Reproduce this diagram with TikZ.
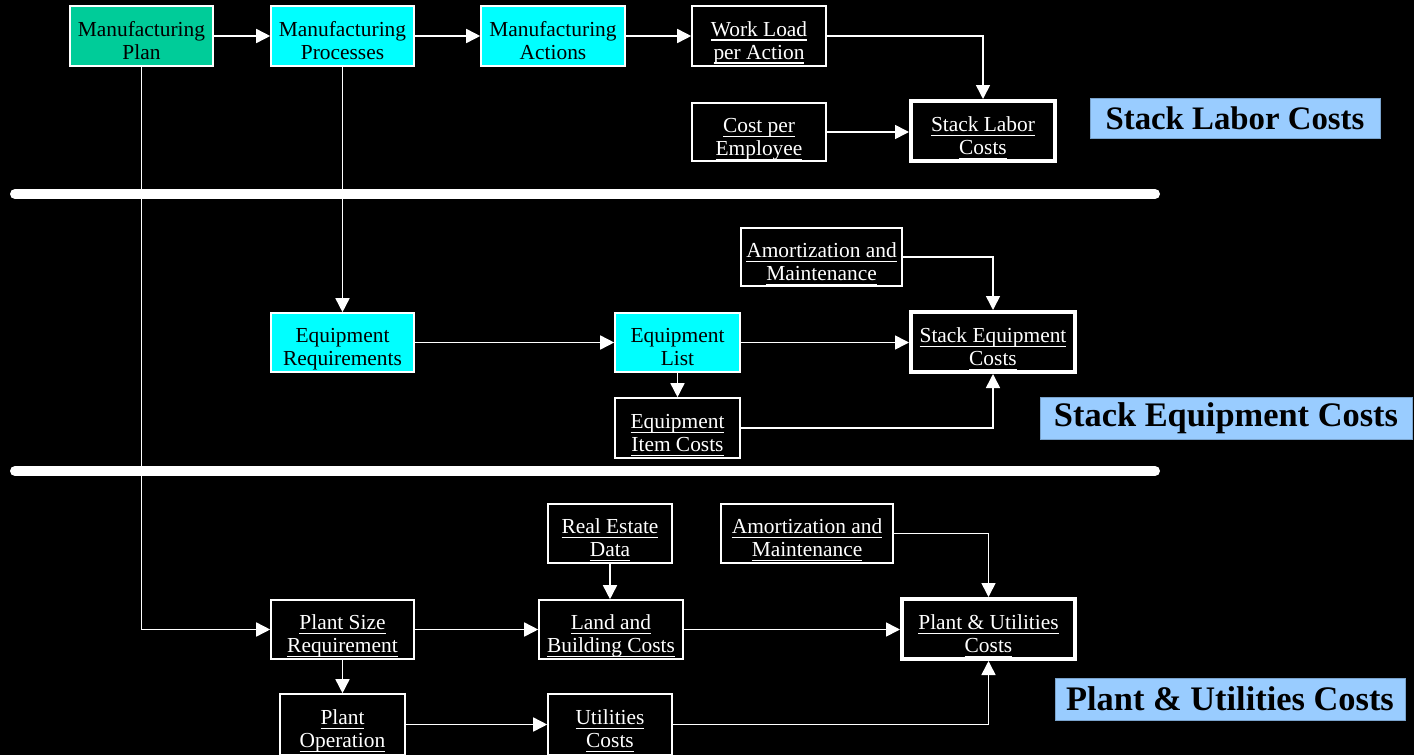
\documentclass[tikz,border=0pt]{standalone}
\usepackage{fontspec}
\setmainfont{Liberation Serif}
\usetikzlibrary{arrows.meta}
\definecolor{navytop}{RGB}{3,3,36}
\definecolor{navybot}{RGB}{6,6,26}
\definecolor{tealgreen}{RGB}{0,204,153}
\definecolor{aqua}{RGB}{0,255,255}
\definecolor{labelblue}{RGB}{153,204,255}
\pgfdeclareverticalshading{bgshade}{100bp}{color(0bp)=(navybot); color(4bp)=(black); color(88bp)=(black); color(100bp)=(navytop)}
\newcommand\ulx[1]{\setbox0\hbox{#1}\leavevmode\rlap{\rule[-2.4pt]{\wd0}{0.65pt}}\box0}
\newcommand\two[2]{\rule{0pt}{14.5pt}#1\\#2\rule[-3pt]{0pt}{3pt}}
\tikzset{
  boxbase/.style={inner sep=0pt, align=center, font=\fontsize{10.7}{11.5}\selectfont},
  cyanbox/.style={boxbase, fill=aqua, draw=white, line width=0.8pt, text=black},
  greenbox/.style={boxbase, fill=tealgreen, draw=white, line width=0.8pt, text=black},
  plainbox/.style={boxbase, fill=black, draw=white, line width=0.8pt, text=white},
  thickbox/.style={boxbase, fill=black, draw=white, line width=2pt, text=white},
  lbl/.style={inner sep=0pt, fill=labelblue, draw=labelblue!80!black, line width=0.4pt, text=black, font=\bfseries},
  arr/.style={draw=white, line width=0.8pt, -{Triangle[length=7pt,width=7pt]}},
  sep/.style={draw=white, line width=5pt, line cap=round}
}
\begin{document}
\begin{tikzpicture}[x=0.5pt,y=-0.5pt]
\shade[shading=bgshade] (0,0) rectangle (1414,755);
\useasboundingbox (0,0) rectangle (1414,755);
% separators
\coordinate (s1a) at (15,194); \coordinate (s1b) at (1155,194);
\coordinate (s2a) at (15,471); \coordinate (s2b) at (1155,471);
\draw[sep] (s1a) -- (s1b);
\draw[sep] (s2a) -- (s2b);
% top row
\node[greenbox, minimum width=71.5pt, minimum height=30pt] (mplan) at (141.5,36) {\two{Manufacturing}{Plan}};
\node[cyanbox, minimum width=71.5pt, minimum height=30pt] (mproc) at (342.5,36) {\two{Manufacturing}{Processes}};
\node[cyanbox, minimum width=72pt, minimum height=30pt] (mact) at (553,36) {\two{Manufacturing}{Actions}};
\node[plainbox, minimum width=67pt, minimum height=30pt] (wload) at (759,36) {\two{\ulx{Work Load}}{\ulx{per Action}}};
\node[plainbox, minimum width=67pt, minimum height=29pt] (cpe) at (759,132) {\two{\ulx{Cost per}}{\ulx{Employee}}};
\node[thickbox, minimum width=72pt, minimum height=30pt] (slc) at (983,131) {\two{\ulx{Stack Labor}}{\ulx{Costs}}};
\node[lbl, minimum width=145pt, minimum height=20pt, font=\fontsize{16.4}{18}\selectfont\bfseries] (lab1) at (1235,118) {Stack Labor Costs};
% equipment section
\node[plainbox, minimum width=80.5pt, minimum height=29pt] (amort1) at (821.5,257) {\two{\ulx{Amortization and}}{\ulx{Maintenance}}};
\node[cyanbox, minimum width=71.5pt, minimum height=29.5pt] (ereq) at (342.5,342.5) {\two{Equipment}{Requirements}};
\node[cyanbox, minimum width=62.5pt, minimum height=29.5pt] (elist) at (677.5,342.5) {\two{Equipment}{List}};
\node[thickbox, minimum width=82pt, minimum height=30pt] (sec) at (993,342) {\two{\ulx{Stack Equipment}}{\ulx{Costs}}};
\node[plainbox, minimum width=62.5pt, minimum height=30pt] (eitem) at (677.5,428) {\two{\ulx{Equipment}}{\ulx{Item Costs}}};
\node[lbl, minimum width=186pt, minimum height=21pt, font=\fontsize{17.2}{19}\selectfont\bfseries] (lab2) at (1226,418) {Stack Equipment Costs};
% plant section
\node[plainbox, minimum width=62pt, minimum height=29.5pt] (redata) at (610,533.5) {\two{\ulx{Real Estate}}{\ulx{Data}}};
\node[plainbox, minimum width=86pt, minimum height=29.5pt] (amort2) at (807,533.5) {\two{\ulx{Amortization and}}{\ulx{Maintenance}}};
\node[plainbox, minimum width=71.5pt, minimum height=29.5pt] (psize) at (342.5,629.5) {\two{\ulx{Plant Size}}{\ulx{Requirement}}};
\node[plainbox, minimum width=72pt, minimum height=29.5pt] (land) at (611,629.5) {\two{\ulx{Land and}}{\ulx{Building Costs}}};
\node[thickbox, minimum width=86.5pt, minimum height=30pt] (puc) at (988.5,629) {\two{\ulx{Plant \& Utilities}}{\ulx{Costs}}};
\node[plainbox, minimum width=62.5pt, minimum height=30.5pt] (pop) at (342.5,724.5) {\two{\ulx{Plant}}{\ulx{Operation}}};
\node[plainbox, minimum width=62pt, minimum height=30.5pt] (util) at (610,724.5) {\two{\ulx{Utilities}}{\ulx{Costs}}};
\node[lbl, minimum width=175pt, minimum height=21pt, font=\fontsize{17.2}{19}\selectfont\bfseries] (lab3) at (1230,699) {Plant \& Utilities Costs};
% connectors
\draw[arr] (mplan) -- (mproc);
\draw[arr] (mproc) -- (mact);
\draw[arr] (mact) -- (wload);
\draw[arr] (wload.east) -| (slc.north);
\draw[arr] (cpe) -- (cpe -| slc.west);
\draw[arr] (mplan.south) |- (psize.west);
\draw[arr] (mproc.south) -- (ereq.north);
\draw[arr] (ereq) -- (elist);
\draw[arr] (elist.east) -- (elist.east -| sec.west);
\draw[arr] (elist.south) -- (eitem.north);
\draw[arr] (amort1.east) -| (sec.north);
\draw[arr] (eitem.east) -| (sec.south);
\draw[arr] (redata.south) -- (redata.south |- land.north);
\draw[arr] (amort2.east) -| (puc.north);
\draw[arr] (psize) -- (land);
\draw[arr] (land.east) -- (land.east -| puc.west);
\draw[arr] (psize.south) -- (pop.north);
\draw[arr] (pop) -- (util);
\draw[arr] (util.east) -| (puc.south);
\end{tikzpicture}
\end{document}
